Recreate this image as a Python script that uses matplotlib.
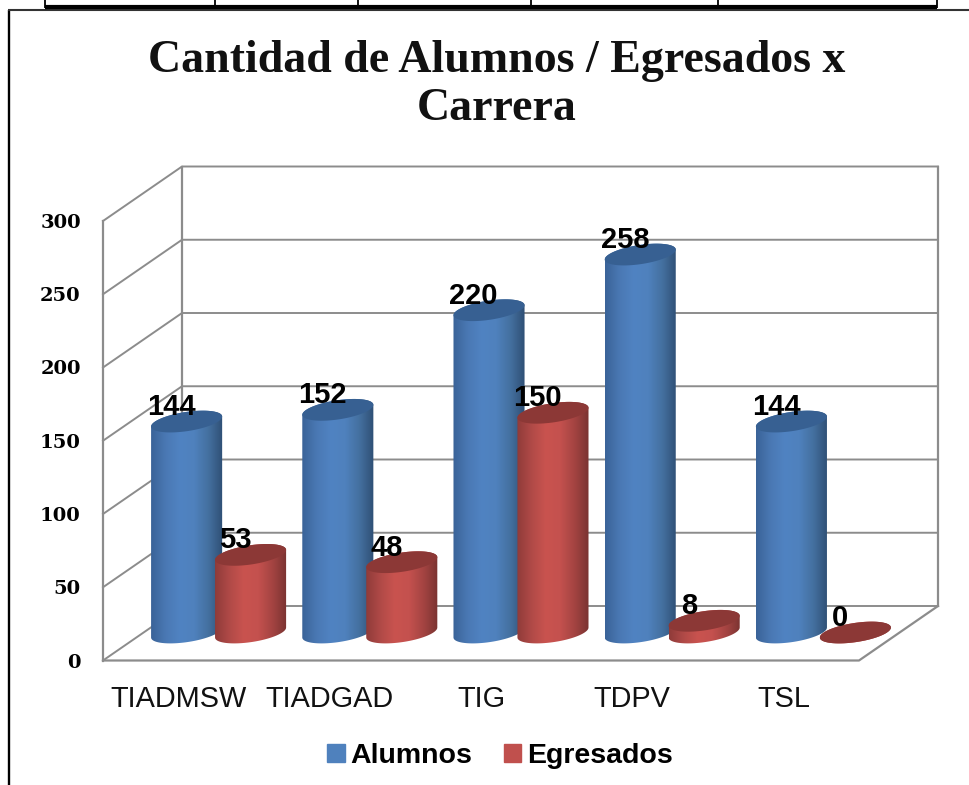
import numpy as np
import matplotlib
matplotlib.use("Agg")
import matplotlib.pyplot as plt
from matplotlib.colors import LinearSegmentedColormap
from matplotlib.lines import Line2D
from matplotlib.patches import Patch, Polygon

categories = ["TIADMSW", "TIADGAD", "TIG", "TDPV", "TSL"]
alumnos = [144, 152, 220, 258, 144]
egresados = [53, 48, 150, 8, 0]
y_ticks = [0, 50, 100, 150, 200, 250, 300]
title = "Cantidad de Alumnos / Egresados x\nCarrera"

W, H = 969, 785
GRID = "#8c8c8c"

# depth of the fake 3d box, in data units
depth_x = 0.5225
depth_y = 37.2
# cylinder shape, in data units
half_w = 0.235
ell_b = 6.6
ell_s = 3.4
base_y = 19.1

blue_side = LinearSegmentedColormap.from_list("b", ["#3a6398", "#4a78b3", "#5083c2", "#4f81bd", "#44709f", "#2f4f75"])
red_side = LinearSegmentedColormap.from_list("r", ["#8f3b39", "#b04a47", "#c9534f", "#c4514e", "#a44442", "#7a3331"])
blue_top = "#376092"
red_top = "#8c3836"


def fig_line(fig, x0, y0, x1, y1, lw, color="black"):
    # coordinates in pixels from the top left corner
    fig.add_artist(Line2D([x0 / W, x1 / W], [1 - y0 / H, 1 - y1 / H], lw=lw, color=color,
                          solid_capstyle="butt"))


def draw_cylinder(ax, fig, cx, value, cmap, top_color, zorder):
    t_low = np.linspace(np.pi, 2 * np.pi, 60)
    t_top = np.linspace(0, 2 * np.pi, 120)
    low_x = cx + half_w * np.cos(t_low)
    low_y = base_y + ell_b * np.sin(t_low) + ell_s * np.cos(t_low)
    top_x = cx + half_w * np.cos(t_top)
    top_y = base_y + value + ell_b * np.sin(t_top) + ell_s * np.cos(t_top)

    side = Polygon(np.column_stack([np.r_[low_x, top_x[:60]], np.r_[low_y, top_y[:60]]]),
                   closed=True, transform=ax.transData)
    im = ax.imshow(np.linspace(0, 1, 256).reshape(1, -1), cmap=cmap, aspect="auto", zorder=zorder,
                   extent=[cx - half_w, cx + half_w, base_y - 12, base_y + value + 12])
    im.set_clip_path(side)
    im.set_clip_box(fig.bbox)
    ax.fill(top_x, top_y, color=top_color, lw=0, zorder=zorder + 0.1, clip_on=False)


fig = plt.figure(figsize=(W / 100, H / 100), dpi=100, facecolor="white")
ax = fig.add_axes([103 / W, 1 - 660.5 / H, 756 / W, 439.5 / H])
ax.set_xlim(0, 5)
ax.set_ylim(0, 300)
ax.patch.set_visible(False)
for sp in ax.spines.values():
    sp.set_visible(False)

# walls and floor
for v in y_ticks:
    ax.plot([0, depth_x, 5 + depth_x], [v, v + depth_y, v + depth_y], color=GRID, lw=1.4, clip_on=False, zorder=1)
ax.plot([0, 0], [0, 300], color=GRID, lw=1.6, clip_on=False, zorder=1)
ax.plot([depth_x, depth_x], [depth_y, 300 + depth_y], color=GRID, lw=1.6, clip_on=False, zorder=1)
ax.plot([5 + depth_x, 5 + depth_x], [depth_y, 300 + depth_y], color=GRID, lw=1.6, clip_on=False, zorder=1)
ax.plot([0, 5, 5 + depth_x], [0, 0, depth_y], color=GRID, lw=1.6, clip_on=False, zorder=1)

x = np.arange(len(categories)) + 0.5
for i in range(len(categories)):
    xb = x[i] + 0.053
    xr = x[i] + 0.476
    draw_cylinder(ax, fig, xb, alumnos[i], blue_side, blue_top, 3 + i)
    draw_cylinder(ax, fig, xr, egresados[i], red_side, red_top, 3.5 + i)
    for xc, val in [(xb, alumnos[i]), (xr, egresados[i])]:
        ax.annotate(str(val), (xc, base_y + val), xytext=(-11, 10.5), textcoords="offset points",
                    ha="center", va="center", fontsize=21, fontweight="bold",
                    family="Liberation Sans", color="black", zorder=20, annotation_clip=False)

ax.set_xlim(0, 5)
ax.set_ylim(0, 300)
ax.set_xticks(x)
ax.set_xticklabels(categories, fontsize=20.8, family="Liberation Sans", color="#111111")
ax.set_yticks(y_ticks)
ax.set_yticklabels([str(v) for v in y_ticks], fontsize=14, fontweight="bold", family="DejaVu Serif")
ax.tick_params(axis="x", length=0, pad=17.5)
ax.tick_params(axis="y", length=0, pad=16)

fig.text(497 / W, 1 - 85 / H, title, ha="center", va="center", fontsize=33, fontweight="bold",
         family="Liberation Serif", linespacing=1.21, color="#111111")

handles = [Patch(color="#4f81bd", label="Alumnos"), Patch(color="#c0504d", label="Egresados")]
fig.legend(handles=handles, loc="center", bbox_to_anchor=(500 / W, 1 - 756 / H), ncol=2, frameon=False,
           prop={"family": "Liberation Sans", "weight": "bold", "size": 20.5},
           handlelength=0.62, handleheight=0.62, handletextpad=0.2, columnspacing=1.1)

# page frame and the table row above it
fig_line(fig, 9, 10, 9, 785, 1.7)
fig_line(fig, 8, 10, 969, 10, 1.5, "#333333")
fig_line(fig, 45, 7, 937, 7, 3)
for xp in [45, 215, 358, 531, 718, 937]:
    fig_line(fig, xp, 0, xp, 8, 1.3)

fig.savefig("out.png", dpi=100)
